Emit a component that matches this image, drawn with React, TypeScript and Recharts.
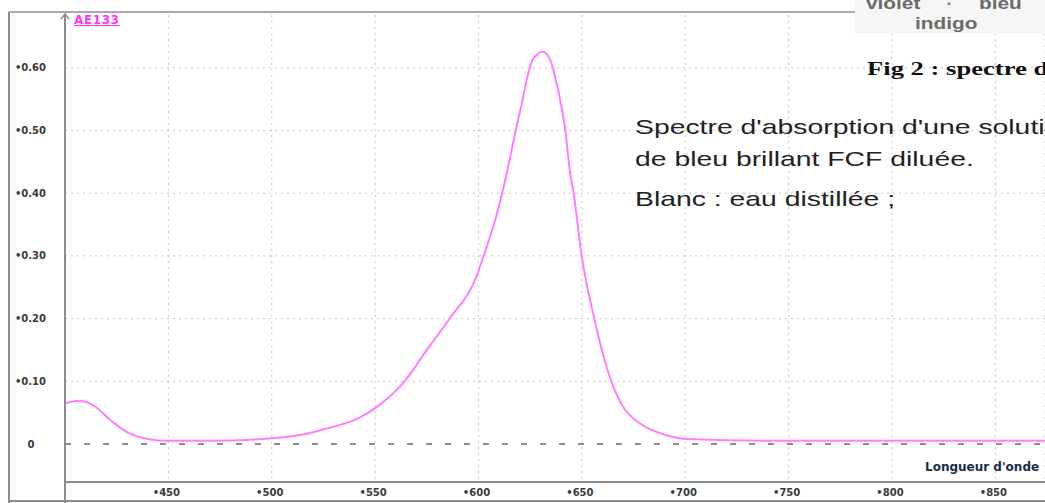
import { LineChart, Line, XAxis, YAxis, CartesianGrid, ReferenceLine } from "recharts";

// spectre d'absorption du bleu brillant FCF (E133)
const wavelengths = [400, 407, 414, 422, 430, 440, 450, 470, 500, 515, 527, 543, 552, 564, 575, 586, 599, 603, 609, 614, 618, 621, 624, 626, 628, 631, 635, 637, 640, 642, 644, 646, 650, 656, 664, 670, 678, 691, 701, 750, 800, 850, 874];
const absorbance = [0.065, 0.069, 0.061, 0.038, 0.019, 0.008, 0.005, 0.005, 0.009, 0.015, 0.025, 0.043, 0.062, 0.099, 0.15, 0.2, 0.267, 0.305, 0.368, 0.437, 0.5, 0.544, 0.59, 0.612, 0.62, 0.626, 0.61, 0.586, 0.54, 0.5, 0.44, 0.4, 0.298, 0.2, 0.102, 0.059, 0.033, 0.014, 0.008, 0.005, 0.005, 0.005, 0.005];

const xTicks = [450, 500, 550, 600, 650, 700, 750, 800, 850];
const yTicks = [0, 0.1, 0.2, 0.3, 0.4, 0.5, 0.6];
const gridY = [0.1, 0.2, 0.3, 0.4, 0.5, 0.6];

const data = wavelengths.map((w, i) => ({ w, a: absorbance[i] }));

const tickFont = { fontFamily: "DejaVu Sans", fontSize: 10, fontWeight: 700, fill: "#3a3a3a" };

const XTick = (props: any) => {
  const { x, y, payload } = props;
  return (
    <text x={x - 2} y={y} dominantBaseline="central" textAnchor="middle" {...tickFont}>
      {"\u2022" + payload.value}
    </text>
  );
};

const YTick = (props: any) => {
  const { x, y, payload } = props;
  if (payload.value === 0) {
    return (
      <text x={x - 15} y={y} dominantBaseline="central" textAnchor="middle" {...tickFont}>
        0
      </text>
    );
  }
  return (
    <text x={x} y={y} dominantBaseline="central" textAnchor="end" {...tickFont}>
      {"\u2022" + payload.value.toFixed(2)}
    </text>
  );
};

const stretch = (left: number, top: number, scale: number): React.CSSProperties => ({
  position: "absolute",
  left,
  top,
  whiteSpace: "nowrap",
  transform: `scaleX(${scale})`,
  transformOrigin: "left top",
});

export default function App() {
  return (
    <div style={{ position: "absolute", left: 0, top: 0, width: 1045, height: 503, overflow: "hidden", background: "#fff" }}>
      <LineChart width={1045} height={503} data={data} margin={{ top: 15, right: 0, bottom: 0, left: 0 }}>
        <CartesianGrid stroke="#c6c6c6" strokeDasharray="2 4" horizontalValues={gridY} />
        <XAxis
          dataKey="w"
          type="number"
          domain={[400, 874]}
          ticks={xTicks}
          allowDataOverflow
          height={21}
          tickLine={false}
          tickSize={0}
          tickMargin={10}
          axisLine={{ stroke: "#8c8c8c", strokeWidth: 2 }}
          tick={<XTick />}
        />
        <YAxis
          type="number"
          domain={[-0.0606, 0.6842]}
          ticks={yTicks}
          allowDataOverflow
          width={65}
          tickLine={false}
          tickSize={0}
          tickMargin={19}
          axisLine={{ stroke: "#8c8c8c", strokeWidth: 2 }}
          tick={<YTick />}
        />
        <ReferenceLine y={0} stroke="#8e8e8e" strokeWidth={2} strokeDasharray="6 13" />
        <Line type="monotone" dataKey="a" stroke="#ff7dff" strokeWidth={2} dot={false} isAnimationActive={false} />
      </LineChart>

      {/* cadre et flèche de l'axe */}
      <svg width={1045} height={503} style={{ position: "absolute", left: 0, top: 0, pointerEvents: "none" }}>
        <line x1={9} y1={12} x2={9} y2={503} stroke="#8c8c8c" strokeWidth={2} />
        <line x1={9} y1={12} x2={855} y2={12} stroke="#8c8c8c" strokeWidth={1.5} />
        <line x1={65} y1={482} x2={65} y2={503} stroke="#8c8c8c" strokeWidth={2} />
        <line x1={9} y1={501} x2={1045} y2={501} stroke="#8c8c8c" strokeWidth={2} />
        <polyline points="61,19 65,14 69,19" fill="none" stroke="#8c8c8c" strokeWidth={1.5} />
      </svg>

      <div style={{ position: "absolute", left: 74, top: 13, fontFamily: "DejaVu Sans", fontSize: 12, fontWeight: 700, color: "#ff33ff", textDecoration: "underline", letterSpacing: 0.6 }}>
        AE133
      </div>

      <div style={{ position: "absolute", left: 855, top: 0, width: 190, height: 34, background: "#f6f6f6" }} />
      <div style={{ ...stretch(866, -5, 1.3), fontFamily: "Liberation Sans", fontSize: 16, fontWeight: 700, color: "#6a6a6a" }}>violet</div>
      <div style={{ ...stretch(946, -5, 1.3), fontFamily: "Liberation Sans", fontSize: 16, fontWeight: 700, color: "#8a8a8a" }}>·</div>
      <div style={{ ...stretch(979, -5, 1.3), fontFamily: "Liberation Sans", fontSize: 16, fontWeight: 700, color: "#6a6a6a" }}>bleu</div>
      <div style={{ ...stretch(915, 15, 1.3), fontFamily: "Liberation Sans", fontSize: 16, fontWeight: 700, color: "#6a6a6a" }}>indigo</div>

      <div style={{ ...stretch(867, 58, 1.4), fontFamily: "Liberation Serif", fontSize: 19, fontWeight: 700, color: "#111" }}>
        Fig 2 : spectre de
      </div>

      <div style={{ ...stretch(635, 111, 1.35), fontFamily: "Liberation Sans", fontSize: 21, color: "#222", lineHeight: "32px" }}>
        Spectre d'absorption d'une solution
        <br />
        de bleu brillant FCF diluée.
      </div>
      <div style={{ ...stretch(635, 187, 1.35), fontFamily: "Liberation Sans", fontSize: 21, color: "#222" }}>
        Blanc : eau distillée ;
      </div>

      <div style={{ position: "absolute", left: 925, top: 460, whiteSpace: "nowrap", fontFamily: "DejaVu Sans", fontSize: 12, fontWeight: 700, color: "#1c2b4a" }}>
        Longueur d'onde
      </div>
    </div>
  );
}
